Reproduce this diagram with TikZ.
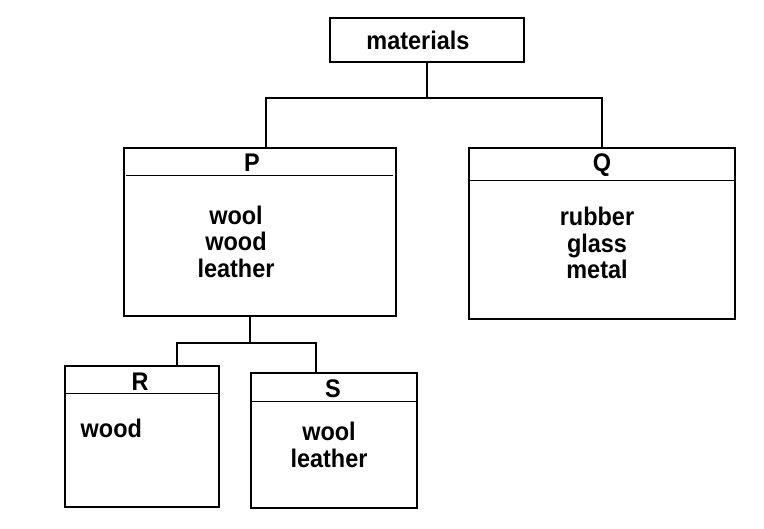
\documentclass[tikz,border=0pt]{standalone}
\usepackage{fontspec}
\setmainfont{Liberation Sans}[FakeStretch=0.92]
\usepackage{tikz}

\begin{document}
\begin{tikzpicture}[x=1pt, y=-1pt, line width=1.4pt,
		box/.style={draw, rectangle, inner sep=0pt},
		lbl/.style={inner sep=0pt, align=center, font=\fontsize{25.5}{26.5}\selectfont\bfseries}]
			\useasboundingbox (0,0) rectangle (764,529);
			
			% boxes
			\node[box, minimum width=194pt, minimum height=44pt] (mat) at (427,40) {};
			\node[box, minimum width=272pt, minimum height=168pt] (P) at (260,232) {};
			\node[box, minimum width=266pt, minimum height=171pt] (Q) at (602,233.5) {};
			\node[box, minimum width=154pt, minimum height=141pt] (R) at (142,436.5) {};
			\node[box, minimum width=166pt, minimum height=135pt] (S) at (334,440.5) {};
			
			% header lines
			\draw ([shift={(3,28)}]P.north west) -- ([shift={(-4,28)}]P.north east);
			\draw ([shift={(0,33)}]Q.north west) -- ([shift={(0,33)}]Q.north east);
			\draw ([shift={(0,28)}]R.north west) -- ([shift={(0,28)}]R.north east);
			\draw ([shift={(0,29)}]S.north west) -- ([shift={(0,29)}]S.north east);
			
			% texts
			\node[lbl] (matT) at (418,40) {materials};
			\node[lbl] (Ph) at (252,163) {P};
			\node[lbl] (Qh) at (602,165) {Q};
			\node[lbl] (Rh) at (140,382) {R};
			\node[lbl] (Sh) at (333,389) {S};
			\node[lbl] (Pt) at (236,241.5) {wool\\wood\\leather};
			\node[lbl] (Qt) at (597,243) {rubber\\glass\\metal};
			\node[lbl, anchor=west] (Rt) at (80,428) {wood};
			\node[lbl] (St) at (329,445) {wool\\leather};
			
			% connectors
			\coordinate (hubA) at (427,98);
			\coordinate (hubB) at (250,343);
			\draw (mat.south) -- (hubA);
			\draw ([xshift=6pt]P.north) |- (hubA) -| (Q.north);
			\draw ([xshift=-10pt]P.south) -- (hubB);
			\draw ([xshift=35pt]R.north) |- (hubB) -| ([xshift=-18pt]S.north);
		\end{tikzpicture}
\end{document}
